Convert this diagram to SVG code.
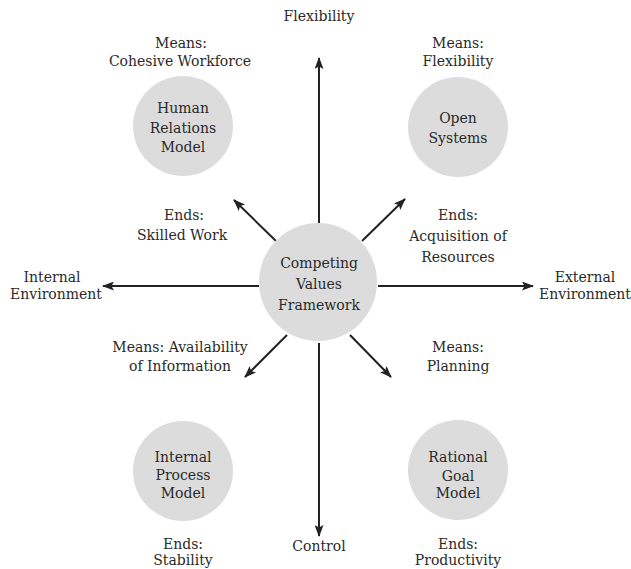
<svg xmlns="http://www.w3.org/2000/svg" width="631" height="569" viewBox="0 0 631 569">
<style>
text{font-family:"DejaVu Serif","Liberation Serif",serif;font-size:14px;fill:#2a2a2a;text-anchor:middle}
.node circle{fill:#dcdcdc;stroke:none}
.conn line{stroke:#222;stroke-width:2;marker-end:url(#ah)}
</style>
<defs>
<marker id="ah" markerUnits="userSpaceOnUse" markerWidth="12" markerHeight="9" refX="11" refY="4.5" orient="auto">
<path d="M0,0 L12,4.5 L0,9 L2.5,4.5 z" fill="#222"/>
</marker>
</defs>
<rect width="631" height="569" fill="#fff"/>
<g id="connectors" class="conn">
<line x1="319" y1="223" x2="319" y2="58"/>
<line x1="319" y1="343" x2="319" y2="536"/>
<line x1="259" y1="286" x2="103" y2="286"/>
<line x1="378" y1="286" x2="533" y2="286"/>
<line x1="276" y1="241" x2="234" y2="200"/>
<line x1="362" y1="241" x2="405" y2="199"/>
<line x1="287" y1="335" x2="245" y2="377"/>
<line x1="350" y1="335" x2="391" y2="377"/>
</g>
<g id="center" class="node">
<circle cx="318" cy="282" r="59"/>
<text x="319" y="268">Competing</text>
<text x="319" y="289">Values</text>
<text x="319" y="310">Framework</text>
</g>
<g id="human-relations" class="node">
<circle cx="183" cy="126" r="50"/>
<text x="183" y="113">Human</text>
<text x="183" y="133">Relations</text>
<text x="183" y="152">Model</text>
</g>
<g id="open-systems" class="node">
<circle cx="458" cy="127" r="50"/>
<text x="458" y="123">Open</text>
<text x="458" y="143">Systems</text>
</g>
<g id="internal-process" class="node">
<circle cx="183" cy="471" r="50"/>
<text x="183" y="462">Internal</text>
<text x="183" y="480">Process</text>
<text x="183" y="498">Model</text>
</g>
<g id="rational-goal" class="node">
<circle cx="458" cy="470" r="50"/>
<text x="458" y="462">Rational</text>
<text x="458" y="481">Goal</text>
<text x="458" y="498">Model</text>
</g>
<g id="labels">
<text x="319" y="21">Flexibility</text>
<text x="319" y="551">Control</text>
<text x="181" y="48">Means:</text>
<text x="180" y="66">Cohesive Workforce</text>
<text x="458" y="48">Means:</text>
<text x="458" y="66">Flexibility</text>
<text x="184" y="220">Ends:</text>
<text x="182" y="240">Skilled Work</text>
<text x="458" y="220">Ends:</text>
<text x="458" y="241">Acquisition of</text>
<text x="458" y="262">Resources</text>
<text x="52" y="282">Internal</text>
<text x="56" y="299">Environment</text>
<text x="585" y="282">External</text>
<text x="585" y="299">Environment</text>
<text x="180" y="352">Means: Availability</text>
<text x="180" y="371">of Information</text>
<text x="458" y="352">Means:</text>
<text x="458" y="371">Planning</text>
<text x="183" y="549">Ends:</text>
<text x="183" y="565">Stability</text>
<text x="458" y="549">Ends:</text>
<text x="458" y="565">Productivity</text>
</g>
</svg>
